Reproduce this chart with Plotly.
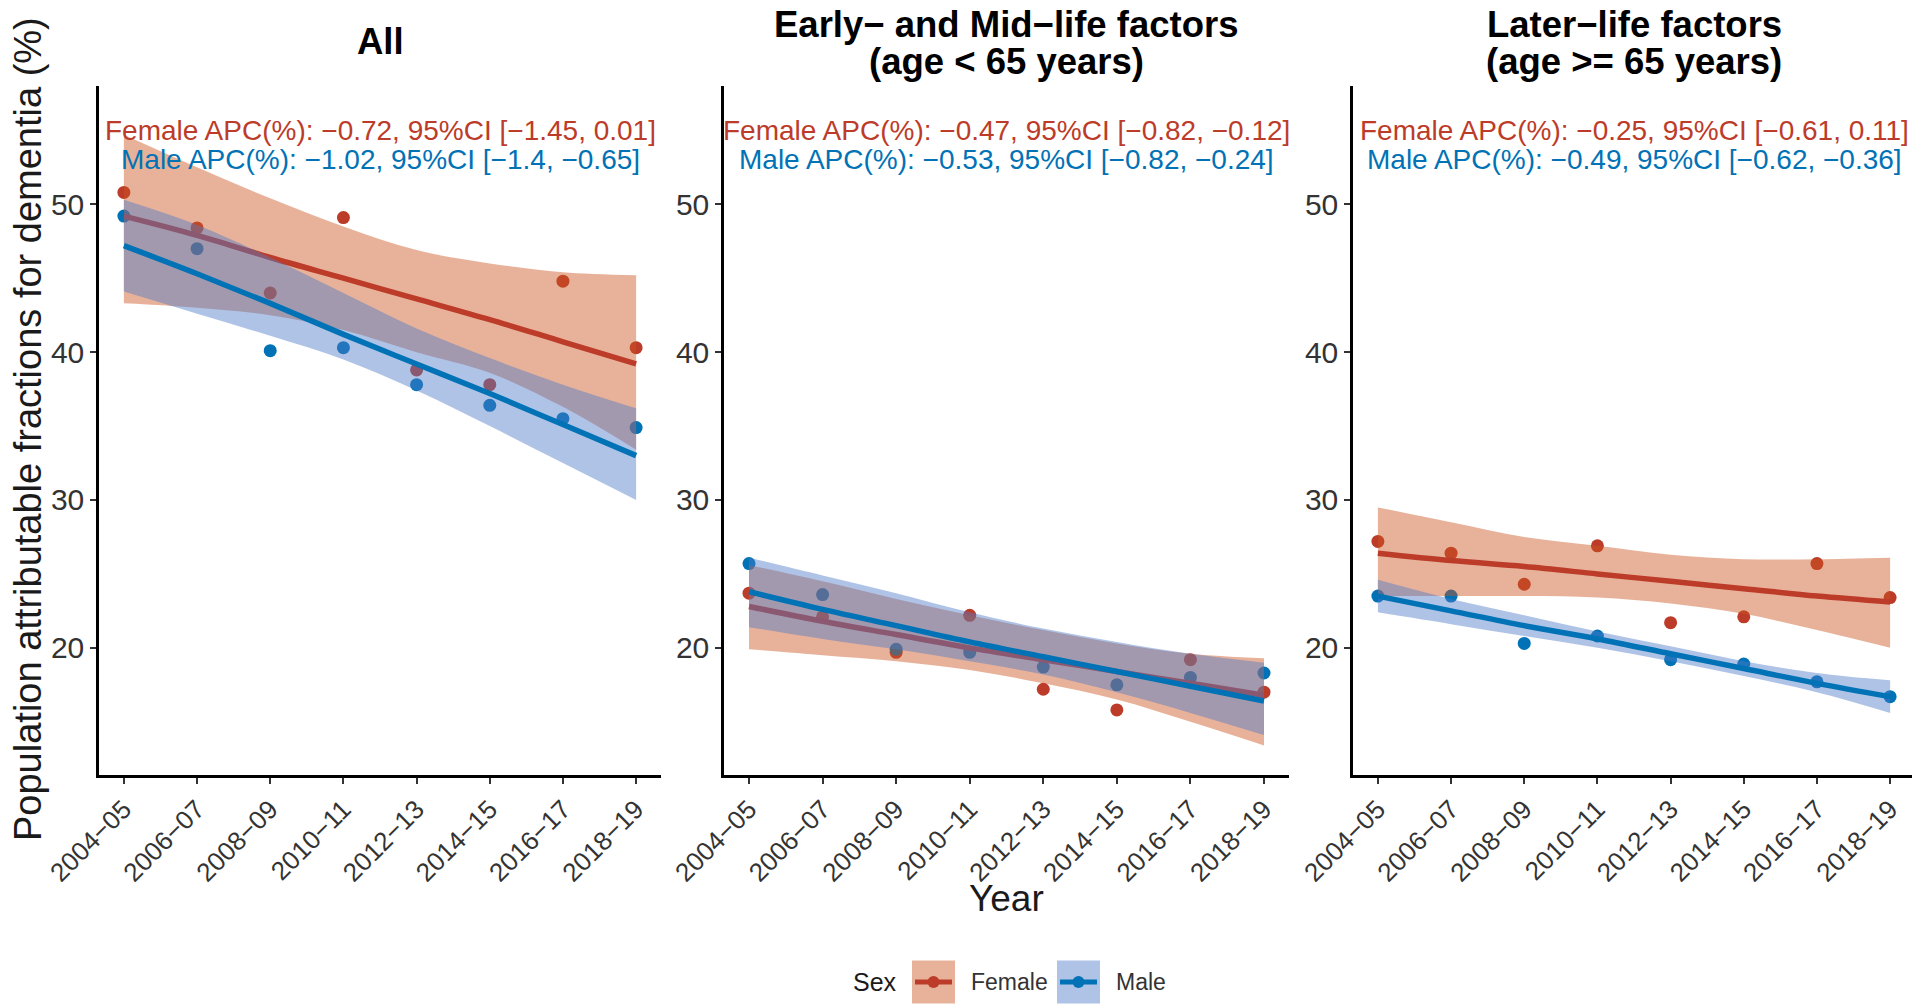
import plotly.graph_objects as go
from plotly.subplots import make_subplots

years = ["2004−05", "2006−07", "2008−09", "2010−11", "2012−13", "2014−15", "2016−17", "2018−19"]

# observed PAF (%) by wave
all_female = [50.8, 48.4, 44.0, 49.1, 38.8, 37.8, 44.8, 40.3]
all_male = [49.2, 47.0, 40.1, 40.3, 37.8, 36.4, 35.5, 34.9]
early_female = [23.7, 22.1, 19.7, 22.2, 17.2, 15.8, 19.2, 17.0]
early_male = [25.7, 23.6, 19.9, 19.7, 18.7, 17.5, 18.0, 18.3]
later_female = [27.2, 26.4, 24.3, 26.9, 21.7, 22.1, 25.7, 23.4]
later_male = [23.5, 23.5, 20.3, 20.8, 19.2, 18.9, 17.7, 16.7]

# fitted trend + 95% band
all_female_fit = [49.2, 47.9, 46.4, 45.0, 43.6, 42.2, 40.7, 39.2]
all_female_lo = [43.3, 43.0, 42.5, 41.5, 40.0, 38.6, 36.3, 33.4]
all_female_hi = [54.7, 52.5, 50.4, 48.5, 46.9, 46.0, 45.4, 45.2]
all_male_fit = [47.2, 45.3, 43.3, 41.2, 39.2, 37.2, 35.1, 33.0]
all_male_lo = [44.1, 42.6, 41.1, 39.5, 37.4, 35.0, 32.5, 30.0]
all_male_hi = [50.3, 48.6, 46.4, 44.0, 41.6, 39.6, 37.8, 36.2]

early_female_fit = [22.8, 21.8, 20.9, 20.0, 19.2, 18.4, 17.6, 16.8]
early_female_lo = [19.9, 19.5, 19.1, 18.5, 17.6, 16.5, 15.0, 13.4]
early_female_hi = [25.6, 24.5, 23.3, 22.2, 21.2, 20.3, 19.6, 19.3]
early_male_fit = [23.8, 22.6, 21.5, 20.4, 19.4, 18.4, 17.4, 16.4]
early_male_lo = [21.4, 20.6, 19.9, 19.1, 18.2, 17.0, 15.6, 14.1]
early_male_hi = [26.1, 24.9, 23.7, 22.4, 21.3, 20.4, 19.6, 19.0]

later_female_fit = [26.4, 25.9, 25.5, 25.0, 24.5, 24.0, 23.5, 23.1]
later_female_lo = [23.5, 23.5, 23.5, 23.4, 23.0, 22.3, 21.2, 20.0]
later_female_hi = [29.5, 28.5, 27.5, 26.9, 26.3, 26.0, 26.0, 26.1]
later_male_fit = [23.5, 22.5, 21.5, 20.6, 19.6, 18.6, 17.6, 16.7]
later_male_lo = [22.4, 21.6, 20.8, 20.0, 19.1, 18.1, 17.0, 15.6]
later_male_hi = [24.6, 23.3, 22.2, 21.1, 20.1, 19.1, 18.3, 17.8]

titles = [["All"], ["Early− and Mid−life factors", "(age < 65 years)"],
          ["Later−life factors", "(age >= 65 years)"]]
female_apc = ["Female APC(%): −0.72, 95%CI [−1.45, 0.01]",
              "Female APC(%): −0.47, 95%CI [−0.82, −0.12]",
              "Female APC(%): −0.25, 95%CI [−0.61, 0.11]"]
male_apc = ["Male APC(%): −1.02, 95%CI [−1.4, −0.65]",
            "Male APC(%): −0.53, 95%CI [−0.82, −0.24]",
            "Male APC(%): −0.49, 95%CI [−0.62, −0.36]"]

panels = [
    (all_female, all_male, all_female_fit, all_female_lo, all_female_hi,
     all_male_fit, all_male_lo, all_male_hi),
    (early_female, early_male, early_female_fit, early_female_lo, early_female_hi,
     early_male_fit, early_male_lo, early_male_hi),
    (later_female, later_male, later_female_fit, later_female_lo, later_female_hi,
     later_male_fit, later_male_lo, later_male_hi),
]

RED = "#BC3C29"
BLUE = "#0072B5"
RED_FILL = "rgba(205,85,30,0.45)"
BLUE_FILL = "rgba(78,122,200,0.45)"
FONT = "Liberation Sans, Arial, sans-serif"
W, H = 1920, 1007
OFF = 8  # page body margin pushes the figure down/right


def px(x):
    return (x - OFF) / W


def py(y):
    return 1 - (y - OFF) / H


fig = make_subplots(rows=1, cols=3)

for i, (f_pts, m_pts, f_fit, f_lo, f_hi, m_fit, m_lo, m_hi) in enumerate(panels):
    c = i + 1
    # points first, ribbons drawn over them like ggplot does
    fig.add_trace(go.Scatter(x=years, y=f_pts, mode="markers",
                             marker=dict(color=RED, size=13), showlegend=False), row=1, col=c)
    fig.add_trace(go.Scatter(x=years, y=m_pts, mode="markers",
                             marker=dict(color=BLUE, size=13), showlegend=False), row=1, col=c)
    for fit, lo, hi, col, fill in [(f_fit, f_lo, f_hi, RED, RED_FILL),
                                   (m_fit, m_lo, m_hi, BLUE, BLUE_FILL)]:
        fig.add_trace(go.Scatter(x=years, y=lo, mode="lines",
                                 line=dict(width=0, shape="spline"),
                                 showlegend=False, hoverinfo="skip"), row=1, col=c)
        fig.add_trace(go.Scatter(x=years, y=hi, mode="lines", fill="tonexty",
                                 fillcolor=fill, line=dict(width=0, shape="spline"),
                                 showlegend=False, hoverinfo="skip"), row=1, col=c)
        fig.add_trace(go.Scatter(x=years, y=fit, mode="lines",
                                 line=dict(color=col, width=5.5, shape="spline"),
                                 showlegend=False), row=1, col=c)

domains = [(99, 661), (724, 1289), (1353, 1915)]
for i, (a, b) in enumerate(domains):
    c = i + 1
    fig.update_xaxes(domain=[px(a), px(b)], type="category", categoryarray=years,
                     range=[-0.34, 7.34], showline=True, linecolor="black", linewidth=2.5,
                     ticks="outside", ticklen=6, tickwidth=2, tickcolor="#333",
                     tickangle=-45, showgrid=False, zeroline=False, automargin=False,
                     tickfont=dict(family=FONT, size=26, color="#333"),
                     row=1, col=c)
    fig.update_yaxes(domain=[py(775), py(86)], range=[11.4, 58.0],
                     tickvals=[20, 30, 40, 50], showline=True, linecolor="black",
                     linewidth=2.5, ticks="outside", ticklen=6, tickwidth=2,
                     tickcolor="#333", showgrid=False, zeroline=False, automargin=False,
                     tickfont=dict(family=FONT, size=30, color="#333"),
                     row=1, col=c)

ann = []
for i, (a, b) in enumerate(domains):
    cx = px((a + b) / 2)
    t = titles[i]
    if len(t) == 1:
        ann.append(dict(x=cx, y=py(41), text="<b>%s</b>" % t[0]))
    else:
        ann.append(dict(x=cx, y=py(25), text="<b>%s</b>" % t[0]))
        ann.append(dict(x=cx, y=py(62), text="<b>%s</b>" % t[1]))
for a_ in ann:
    a_.update(xref="paper", yref="paper", showarrow=False, xanchor="center",
              yanchor="middle", font=dict(family=FONT, size=36.5, color="black"))

for i in range(3):
    xr = "x domain" if i == 0 else "x%d domain" % (i + 1)
    yr = "y" if i == 0 else "y%d" % (i + 1)
    ann.append(dict(x=0.5, xref=xr, y=55, yref=yr, text=female_apc[i], showarrow=False,
                    xanchor="center", yanchor="middle",
                    font=dict(family=FONT, size=28, color=RED)))
    ann.append(dict(x=0.5, xref=xr, y=53, yref=yr, text=male_apc[i], showarrow=False,
                    xanchor="center", yanchor="middle",
                    font=dict(family=FONT, size=28, color=BLUE)))

# axis titles
ann.append(dict(x=px(28), y=py(429), xref="paper", yref="paper", showarrow=False,
                text="Population attributable fractions for dementia (%)", textangle=-90,
                xanchor="center", yanchor="middle",
                font=dict(family=FONT, size=38, color="#1a1a1a")))
ann.append(dict(x=px(1006), y=py(898), xref="paper", yref="paper", showarrow=False,
                text="Year", xanchor="center", yanchor="middle",
                font=dict(family=FONT, size=37, color="#1a1a1a")))

# legend drawn by hand to get ggplot-style keys
ly = 982
ann.append(dict(x=px(875), y=py(ly), xref="paper", yref="paper", showarrow=False,
                text="Sex", xanchor="center", yanchor="middle",
                font=dict(family=FONT, size=25, color="#1a1a1a")))
shapes = []
for x0, lab, col, fill in [(912, "Female", RED, RED_FILL), (1057, "Male", BLUE, BLUE_FILL)]:
    shapes.append(dict(type="rect", xref="paper", yref="paper", x0=px(x0), x1=px(x0 + 43),
                       y0=py(ly + 21.5), y1=py(ly - 21.5),
                       fillcolor=fill, line=dict(width=0)))
    shapes.append(dict(type="line", xref="paper", yref="paper", x0=px(x0 + 3),
                       x1=px(x0 + 40), y0=py(ly), y1=py(ly),
                       line=dict(color=col, width=5)))
    shapes.append(dict(type="circle", xref="paper", yref="paper", x0=px(x0 + 15.5),
                       x1=px(x0 + 27.5), y0=py(ly + 6), y1=py(ly - 6),
                       fillcolor=col, line=dict(width=0)))
    ann.append(dict(x=px(x0 + 57), y=py(ly), xref="paper", yref="paper",
                    showarrow=False, text=lab, xanchor="left", yanchor="middle",
                    font=dict(family=FONT, size=23, color="#333")))

fig.update_layout(width=W, height=H, margin=dict(l=0, r=0, t=0, b=0, autoexpand=False),
                  plot_bgcolor="white", paper_bgcolor="white",
                  annotations=ann, shapes=shapes, showlegend=False)

fig.write_html("out.html")
